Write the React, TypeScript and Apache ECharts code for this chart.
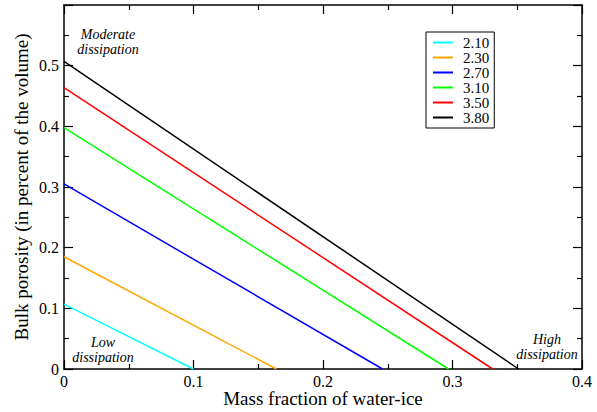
import React, { useEffect, useRef } from "react";
import * as echarts from "echarts";

const seriesNames = ["2.10", "2.30", "2.70", "3.10", "3.50", "3.80"];
const seriesColors = ["#00ffff", "#ffa500", "#0000ff", "#00ff00", "#ff0000", "#000000"];
// porosity at zero ice fraction
const intercepts = [0.107, 0.185, 0.305, 0.398, 0.464, 0.507];
// ice fraction at which porosity reaches zero
const zeroCrossings = [0.1, 0.164, 0.246, 0.297, 0.331, 0.351];
const yTicks = [0, 0.1, 0.2, 0.3, 0.4, 0.5];
const annotations = ["Moderate\ndissipation", "Low\ndissipation", "High\ndissipation"];
const xTitle = "Mass fraction of water-ice";
const yTitle = "Bulk porosity (in percent of the volume)";

const fmt = (v: number) => (v === 0 ? "0" : String(Math.round(v * 10) / 10));

export default function App() {
  const ref = useRef<HTMLDivElement>(null);
  useEffect(() => {
    if (!ref.current) return;
    const chart = echarts.init(ref.current, undefined, { renderer: "svg" });
    const font = "Liberation Serif";
    const axCommon = {
      type: "value",
      axisLine: { show: true, onZero: false, lineStyle: { color: "#000", width: 1.5 } },
      axisTick: { show: true, inside: true, length: 9, lineStyle: { color: "#000", width: 1.2 } },
      minorTick: { show: true, splitNumber: 2, length: 5, lineStyle: { color: "#000", width: 1.2 } },
      splitLine: { show: false },
    };
    const annPos = [
      { left: 108, top: 27 },
      { left: 103, top: 335 },
      { left: 547, top: 332 },
    ];
    const patch = () => {
      if (!ref.current) return;
      ref.current.querySelectorAll("text").forEach((t) => {
        const s = t.getAttribute("style") || "";
        if (s.includes("Liberation Serif")) return;
        const txt = (t.textContent || "").trim();
        if (seriesNames.includes(txt)) t.setAttribute("style", "font-size:15px;font-family:'Liberation Serif';");
        else if (/^0(\.\d)?$/.test(txt)) t.setAttribute("style", "font-size:16px;font-family:'Liberation Serif';");
      });
    };
    let timers: any[] = [];
    try {
      // stage A: core chart
      chart.setOption({
        animation: false,
        grid: { left: 64, right: 15, top: 5, bottom: 43, outerBoundsMode: "none" },
        legend: {
          data: seriesNames,
          left: 426,
          top: 32,
          orient: "vertical",
          padding: [3, 5, 3, 7],
          backgroundColor: "#fff",
          borderColor: "#000",
          borderWidth: 1,
          itemGap: 0,
          itemWidth: 20,
          itemHeight: 2,
          icon: "rect",
          textStyle: { fontFamily: font, fontSize: 15, color: "#000", lineHeight: 15, padding: [0, 0, 0, 5] },
        },
        xAxis: [
          { ...axCommon, min: 0, max: 0.4, interval: 0.1, axisLabel: { fontFamily: font, fontSize: 16, color: "#000", margin: 4, formatter: fmt } },
          { ...axCommon, position: "top", min: 0, max: 0.4, interval: 0.1, axisLabel: { show: false } },
        ],
        yAxis: [
          {
            ...axCommon,
            min: 0,
            max: 0.6,
            interval: 0.1,
            axisLabel: {
              fontFamily: font,
              fontSize: 16,
              color: "#000",
              margin: 5,
              formatter: (v: number) => (yTicks.some((t) => Math.abs(t - v) < 1e-6) ? fmt(v) : ""),
            },
          },
          { ...axCommon, position: "right", min: 0, max: 0.6, interval: 0.1, axisLabel: { show: false } },
        ],
        series: seriesNames.map((name, i) => ({
          name,
          type: "line",
          symbol: "none",
          color: seriesColors[i],
          lineStyle: { color: seriesColors[i], width: 1.5 },
          data: [
            [0, intercepts[i]],
            [zeroCrossings[i], 0],
          ],
        })),
      });
    } catch (e) {
      /* keep going */
    }
    try {
      // stage B: titles and annotations
      chart.setOption({
        title: annotations.map((text, i) => ({
          text,
          left: annPos[i].left,
          top: annPos[i].top,
          padding: 0,
          textAlign: "center",
          textVerticalAlign: "top",
          textStyle: { fontFamily: font, fontSize: 14, fontStyle: "italic", fontWeight: "normal", color: "#000", lineHeight: 15 },
        })),
        xAxis: [
          {
            name: xTitle,
            nameLocation: "middle",
            nameGap: 20,
            nameMoveOverlap: false,
            nameTextStyle: { fontFamily: font, fontSize: 19, color: "#000" },
          },
          {},
        ],
        yAxis: [
          {
            name: yTitle,
            nameLocation: "middle",
            nameGap: 33,
            nameMoveOverlap: false,
            nameTextStyle: { fontFamily: font, fontSize: 19, color: "#000" },
          },
          {},
        ],
      });
    } catch (e) {
      /* keep going */
    } finally {
      patch();
      timers = [0, 50, 200, 600, 1200].map((d) => setTimeout(patch, d));
    }
    return () => {
      timers.forEach((t) => clearTimeout(t));
      chart.dispose();
    };
  }, []);
  return (
    <>
      <style>{"body{margin:0}"}</style>
      <div ref={ref} style={{ width: 597, height: 412 }} />
    </>
  );
}
